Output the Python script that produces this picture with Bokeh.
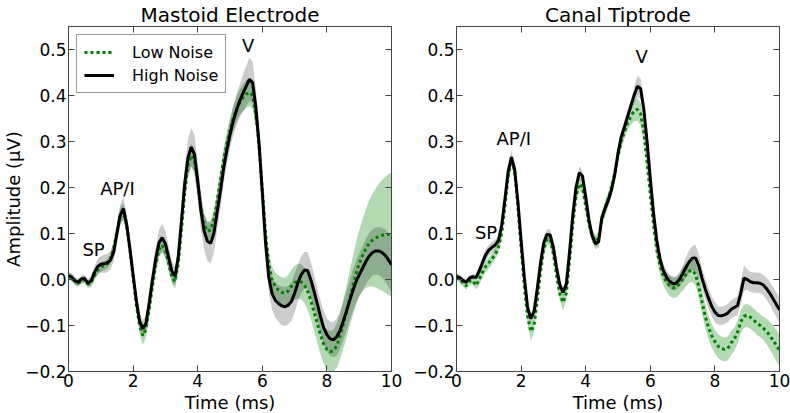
import numpy as np
from bokeh.plotting import figure
from bokeh.layouts import row
from bokeh.models import Range1d, FixedTicker, CustomJSTickFormatter, LinearAxis, Label
from bokeh.embed import file_html
from bokeh.resources import INLINE

FONT = "DejaVu Sans"

# sample times (ms), 0.1 ms step
time_ms = np.round(np.arange(101) * 0.1, 1)

x_ticks = [0, 2, 4, 6, 8, 10]
y_ticks = [-0.2, -0.1, 0.0, 0.1, 0.2, 0.3, 0.4, 0.5]

# ---------------- Mastoid Electrode ----------------
mastoid_high = [
    0.008, 0.005, -0.003, -0.006, 0.001, 0.002, -0.008, -0.003, 0.015, 0.028,
    0.033, 0.034, 0.036, 0.042, 0.060, 0.100, 0.140, 0.154, 0.120, 0.068,
    0.010, -0.045, -0.090, -0.107, -0.095, -0.050, 0.000, 0.045, 0.080, 0.091,
    0.078, 0.048, 0.018, 0.007, 0.050, 0.130, 0.210, 0.265, 0.288, 0.272,
    0.215, 0.150, 0.105, 0.083, 0.079, 0.100, 0.145, 0.190, 0.240, 0.280,
    0.315, 0.345, 0.368, 0.388, 0.405, 0.420, 0.435, 0.428, 0.375, 0.295,
    0.190, 0.080, 0.005, -0.030, -0.045, -0.052, -0.057, -0.059, -0.056, -0.048,
    -0.030, -0.008, 0.010, 0.020, 0.020, 0.000, -0.025, -0.052, -0.080, -0.105,
    -0.120, -0.129, -0.131, -0.125, -0.112, -0.092, -0.070, -0.047, -0.025, -0.005,
    0.010, 0.024, 0.038, 0.050, 0.058, 0.062, 0.062, 0.059, 0.053, 0.043,
    0.032]
mastoid_high_err = (
    [0.008] * 7 +
    [0.010, 0.013, 0.016, 0.018, 0.020, 0.020, 0.020, 0.020, 0.020, 0.022,
     0.024, 0.022, 0.020, 0.018, 0.018, 0.018, 0.018, 0.018, 0.020, 0.022,
     0.025, 0.028, 0.030, 0.028, 0.025, 0.022, 0.020, 0.025, 0.030, 0.035,
     0.040, 0.042, 0.042, 0.040, 0.040, 0.040, 0.043, 0.044, 0.042, 0.038,
     0.035, 0.032, 0.030, 0.030, 0.032, 0.034, 0.036, 0.040, 0.044, 0.047,
     0.045, 0.040, 0.035, 0.030, 0.030, 0.032, 0.035, 0.038, 0.040, 0.042,
     0.042, 0.042, 0.042, 0.042, 0.040, 0.040, 0.040, 0.040, 0.038, 0.036,
     0.035, 0.035, 0.035, 0.036, 0.037, 0.038, 0.040, 0.040, 0.042, 0.043,
     0.044, 0.045, 0.046, 0.047, 0.048, 0.049, 0.050, 0.050, 0.051, 0.052,
     0.054, 0.056, 0.058, 0.060])
mastoid_low = [
    0.008, 0.004, -0.004, -0.008, -0.002, 0.000, -0.010, -0.007, 0.008, 0.020,
    0.027, 0.030, 0.034, 0.045, 0.068, 0.105, 0.140, 0.148, 0.118, 0.065,
    0.005, -0.055, -0.100, -0.122, -0.108, -0.065, -0.015, 0.030, 0.065, 0.075,
    0.063, 0.035, 0.005, -0.005, 0.035, 0.110, 0.190, 0.250, 0.270, 0.258,
    0.210, 0.155, 0.120, 0.105, 0.108, 0.130, 0.170, 0.215, 0.260, 0.295,
    0.325, 0.350, 0.370, 0.385, 0.395, 0.403, 0.407, 0.400, 0.360, 0.290,
    0.195, 0.100, 0.035, 0.000, -0.015, -0.023, -0.028, -0.030, -0.025, -0.015,
    -0.007, -0.004, -0.005, -0.012, -0.025, -0.045, -0.070, -0.095, -0.120, -0.140,
    -0.152, -0.157, -0.155, -0.145, -0.125, -0.100, -0.072, -0.043, -0.015, 0.012,
    0.035, 0.052, 0.066, 0.078, 0.085, 0.090, 0.093, 0.096, 0.097, 0.098,
    0.097]
mastoid_low_err = (
    [0.008] * 7 + [0.010] * 7 +
    [0.012, 0.014, 0.016, 0.018, 0.016, 0.015, 0.015, 0.016, 0.018, 0.020,
     0.018, 0.016, 0.015, 0.015, 0.016, 0.017, 0.016, 0.015, 0.015, 0.015,
     0.017, 0.020, 0.022, 0.024, 0.025, 0.024, 0.022, 0.020, 0.020, 0.020,
     0.020, 0.020, 0.020, 0.022, 0.024, 0.025, 0.026, 0.027, 0.028, 0.028,
     0.029, 0.030, 0.030, 0.030, 0.028, 0.026, 0.025, 0.025, 0.026, 0.028,
     0.030, 0.032, 0.033, 0.034, 0.035, 0.036, 0.037, 0.038, 0.038, 0.039,
     0.040, 0.040, 0.040, 0.041, 0.042, 0.043, 0.044, 0.045, 0.046, 0.048,
     0.050, 0.053, 0.056, 0.060, 0.064, 0.068, 0.072, 0.078, 0.085, 0.093,
     0.100, 0.107, 0.114, 0.120, 0.126, 0.131, 0.135])

# ---------------- Canal Tiptrode ----------------
canal_high = [
    0.006, 0.004, -0.002, -0.006, 0.003, 0.006, 0.004, 0.018, 0.036, 0.053,
    0.064, 0.070, 0.075, 0.085, 0.118, 0.175, 0.235, 0.266, 0.240, 0.170,
    0.085, 0.005, -0.060, -0.085, -0.070, -0.020, 0.035, 0.080, 0.098, 0.097,
    0.070, 0.025, -0.012, -0.028, -0.010, 0.060, 0.140, 0.200, 0.232, 0.225,
    0.180, 0.130, 0.095, 0.078, 0.082, 0.135, 0.155, 0.172, 0.195, 0.228,
    0.275, 0.310, 0.332, 0.355, 0.378, 0.400, 0.420, 0.415, 0.370, 0.300,
    0.220, 0.145, 0.085, 0.045, 0.020, 0.005, -0.004, -0.009, -0.008, 0.000,
    0.012, 0.026, 0.038, 0.046, 0.047, 0.030, 0.003, -0.020, -0.040, -0.058,
    -0.071, -0.078, -0.079, -0.077, -0.073, -0.065, -0.061, -0.057, -0.030, 0.003,
    0.000, -0.005, -0.007, -0.007, -0.008, -0.012, -0.020, -0.030, -0.042, -0.054,
    -0.066]
canal_high_err = (
    [0.006] * 7 + [0.012] * 10 + [0.015] + [0.010] * 5 + [0.012] + [0.010] * 5 +
    [0.013] + [0.010] * 8 + [0.015] + [0.012] * 16 +
    [0.018, 0.023, 0.022, 0.018] + [0.015] * 11 +
    [0.018, 0.022, 0.025, 0.027, 0.028, 0.026] + [0.022] * 5 + [0.020] * 7 +
    [0.025, 0.028] + [0.022] * 6 + [0.024, 0.025, 0.026, 0.027, 0.028])
canal_low = [
    0.005, 0.002, -0.008, -0.014, -0.004, -0.002, -0.013, 0.000, 0.015, 0.028,
    0.036, 0.045, 0.055, 0.070, 0.100, 0.160, 0.225, 0.260, 0.235, 0.160,
    0.070, -0.015, -0.080, -0.113, -0.100, -0.045, 0.015, 0.065, 0.088, 0.087,
    0.055, 0.008, -0.032, -0.050, -0.030, 0.040, 0.120, 0.180, 0.208, 0.200,
    0.160, 0.120, 0.095, 0.084, 0.088, 0.130, 0.155, 0.175, 0.200, 0.232,
    0.268, 0.300, 0.322, 0.340, 0.355, 0.366, 0.370, 0.360, 0.320, 0.255,
    0.185, 0.120, 0.065, 0.030, 0.008, -0.006, -0.014, -0.018, -0.017, -0.010,
    0.000, 0.010, 0.018, 0.020, 0.012, -0.015, -0.048, -0.080, -0.104, -0.122,
    -0.135, -0.145, -0.150, -0.152, -0.150, -0.138, -0.130, -0.115, -0.092, -0.080,
    -0.078, -0.082, -0.088, -0.095, -0.100, -0.106, -0.113, -0.122, -0.132, -0.143,
    -0.154]
canal_low_err = (
    [0.008] * 7 + [0.012] * 12 + [0.014] * 4 + [0.020, 0.016] + [0.013] * 8 +
    [0.018] + [0.013] * 12 + [0.018] + [0.015] * 7 +
    [0.018, 0.022, 0.025, 0.025, 0.022] + [0.020] * 7 + [0.022] * 4 +
    [0.025] * 6 + [0.026] * 10 + [0.025] * 10 +
    [0.028, 0.030, 0.032, 0.034, 0.035])

for arr in (mastoid_high, mastoid_high_err, mastoid_low, mastoid_low_err,
            canal_high, canal_high_err, canal_low, canal_low_err):
    assert len(arr) == 101, len(arr)

# annotation texts and positions (ms, uV)
mastoid_labels = [("SP", 0.43, 0.065, "left"), ("AP/I", 0.98, 0.197, "left"),
                  ("V", 5.56, 0.509, "center")]
canal_labels = [("SP", 0.57, 0.102, "left"), ("AP/I", 1.24, 0.306, "left"),
                ("V", 5.73, 0.484, "center")]

TICK_FONT = "17px"
LABEL_FONT = "18px"


def make_panel(title, low, low_err, high, high_err, labels, bl, br, ylabel, legend):
    p = figure(frame_width=323, frame_height=345,
               x_range=Range1d(0, 10), y_range=Range1d(-0.2, 0.55),
               output_backend="svg", toolbar_location=None,
               min_border_left=bl, min_border_right=br,
               min_border_top=26, min_border_bottom=42,
               background_fill_color="white", border_fill_color="white",
               title=title)
    p.grid.visible = False
    p.outline_line_color = "#444444"
    p.outline_line_width = 1

    p.title.align = "center"
    p.title.text_font = FONT
    p.title.text_font_size = "20px"
    p.title.text_font_style = "normal"
    p.title.text_color = "black"
    p.title.standoff = 0
    p.title.offset = 0

    low = np.array(low); low_err = np.array(low_err)
    high = np.array(high); high_err = np.array(high_err)
    p.varea(x=time_ms, y1=low - low_err, y2=low + low_err,
            fill_color="green", fill_alpha=0.3)
    p.varea(x=time_ms, y1=high - high_err, y2=high + high_err,
            fill_color="black", fill_alpha=0.2)
    if legend:
        p.line(time_ms, low, line_color="green", line_width=3,
               line_dash="3 3", legend_label="Low Noise")
        p.line(time_ms, high, line_color="black", line_width=3,
               legend_label="High Noise")
    else:
        p.line(time_ms, low, line_color="green", line_width=3, line_dash="3 3")
        p.line(time_ms, high, line_color="black", line_width=3)

    yfmt = CustomJSTickFormatter(
        code="return (tick < -1e-9 ? '\u2212' : '') + Math.abs(tick).toFixed(1);")
    blank = CustomJSTickFormatter(code="return '';")

    xa = p.xaxis[0]
    xa.ticker = FixedTicker(ticks=x_ticks)
    xa.axis_label = "Time (ms)"
    xa.axis_label_standoff = 2
    xa.major_label_standoff = 2
    ya = p.yaxis[0]
    ya.ticker = FixedTicker(ticks=y_ticks)
    ya.formatter = yfmt
    ya.major_label_standoff = 2
    if ylabel:
        ya.axis_label = "Amplitude (\u03bcV)"
        ya.axis_label_standoff = -2

    top = LinearAxis(ticker=FixedTicker(ticks=x_ticks), formatter=blank,
                     major_label_standoff=0, major_label_text_font_size="1px")
    right = LinearAxis(ticker=FixedTicker(ticks=y_ticks), formatter=blank,
                       major_label_standoff=0, major_label_text_font_size="1px")
    p.add_layout(top, "above")
    p.add_layout(right, "right")

    for ax in (xa, ya, top, right):
        ax.major_tick_in = 6
        ax.major_tick_out = 0
        ax.minor_tick_line_color = None
        ax.axis_line_color = None
        ax.major_tick_line_color = "#444444"
        ax.major_label_text_font = FONT
        ax.major_label_text_color = "black"
        ax.axis_label_text_font = FONT
        ax.axis_label_text_font_style = "normal"
        ax.axis_label_text_color = "black"
        ax.axis_label_text_font_size = LABEL_FONT
    for ax in (xa, ya):
        ax.major_label_text_font_size = TICK_FONT

    for txt, lx, ly, al in labels:
        p.add_layout(Label(x=lx, y=ly, text=txt, text_align=al,
                           text_baseline="alphabetic", text_font=FONT,
                           text_font_size="18px", text_color="black"))

    if legend:
        lg = p.legend[0]
        lg.location = "top_left"
        lg.margin = 8
        lg.padding = 7
        lg.spacing = 3
        lg.glyph_width = 30
        lg.glyph_height = 20
        lg.label_height = 20
        lg.label_standoff = 18
        lg.label_text_font = FONT
        lg.label_text_font_size = "16px"
        lg.label_text_color = "black"
        lg.border_line_color = "#333333"
        lg.border_line_width = 1
        lg.background_fill_alpha = 1.0
    return p


p1 = make_panel("Mastoid Electrode", mastoid_low, mastoid_low_err,
                mastoid_high, mastoid_high_err, mastoid_labels, 67, 17, True, True)
p2 = make_panel("Canal Tiptrode", canal_low, canal_low_err,
                canal_high, canal_high_err, canal_labels, 48, 12, False, False)

layout = row(p1, p2, spacing=0)
open("out.html", "w").write(file_html(layout, INLINE))
